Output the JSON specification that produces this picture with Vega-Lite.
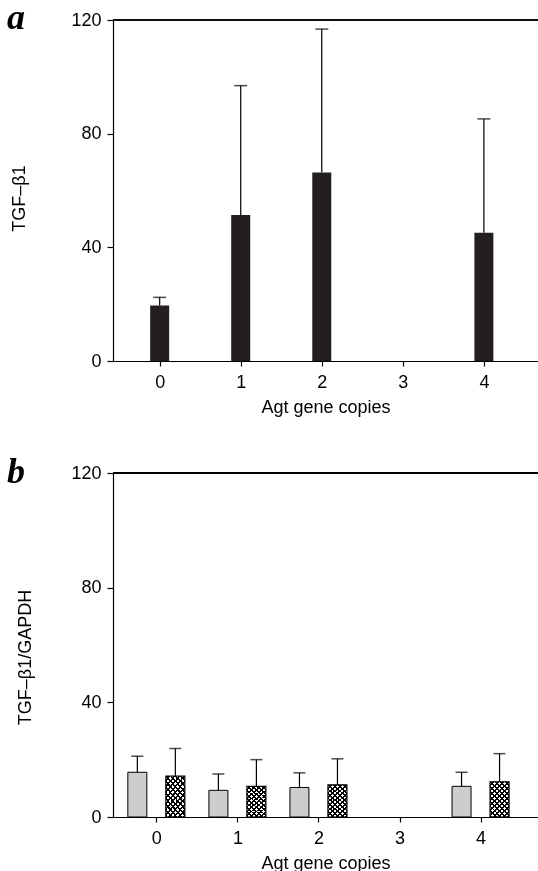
{
  "$schema": "https://vega.github.io/schema/vega-lite/v6.json",
  "padding": {"left": 7, "top": 0, "right": 0, "bottom": 0},
  "spacing": 38,
  "datasets": {
    "a": [
      {"copies": 0, "mean": 19.5, "upper": 22.4},
      {"copies": 1, "mean": 51.4, "upper": 96.9},
      {"copies": 2, "mean": 66.3, "upper": 116.8},
      {"copies": 4, "mean": 45.1, "upper": 85.2}
    ],
    "b": [
      {"copies": 0, "group": "gray", "mean": 15.6, "upper": 21.2},
      {"copies": 0, "group": "hatch", "mean": 14.3, "upper": 23.9},
      {"copies": 1, "group": "gray", "mean": 9.3, "upper": 15.0},
      {"copies": 1, "group": "hatch", "mean": 10.7, "upper": 20.0},
      {"copies": 2, "group": "gray", "mean": 10.3, "upper": 15.4},
      {"copies": 2, "group": "hatch", "mean": 11.2, "upper": 20.3},
      {"copies": 4, "group": "gray", "mean": 10.7, "upper": 15.6},
      {"copies": 4, "group": "hatch", "mean": 12.3, "upper": 22.1}
    ]
  },
  "vconcat": [
    {
      "width": 425,
      "height": 341,
      "title": {"text": "a", "anchor": "start", "frame": "group", "orient": "top", "baseline": "alphabetic", "offset": -36, "dx": -106, "dy": 18, "font": "Liberation Serif", "fontStyle": "italic", "fontWeight": "bold", "fontSize": 36, "color": "black"},
      "data": {"name": "a"},
      "layer": [
        {
          "mark": {"type": "rule", "color": "black", "strokeWidth": 1},
          "encoding": {
            "y": {"datum": 120, "type": "quantitative", "scale": {"domain": [0, 120]}, "title": "TGF–β1"}
          }
        },
        {
          "mark": {"type": "bar", "width": 19, "fill": "#231f20"},
          "encoding": {
            "x": {"field": "copies", "type": "quantitative", "scale": {"domain": [-0.514, 4.606], "nice": false, "zero": false}, "title": "Agt gene copies",
              "axis": {"values": [0, 1, 2, 3, 4], "format": "d", "tickSize": 5, "labelPadding": 7, "titlePadding": 7, "labelFlush": false}},
            "y": {"field": "mean", "type": "quantitative", "scale": {"domain": [0, 120]}, "title": "TGF–β1",
              "axis": {"values": [0, 40, 80, 120], "tickSize": 6, "labelPadding": 6, "titleX": -89, "titleY": 178, "titleBaseline": "alphabetic", "titleAlign": "center"}}
          }
        },
        {
          "mark": {"type": "rule", "color": "black", "strokeWidth": 1.2},
          "encoding": {
            "x": {"field": "copies", "type": "quantitative", "title": "Agt gene copies"},
            "y": {"field": "mean", "type": "quantitative", "title": "TGF–β1"},
            "y2": {"field": "upper"}
          }
        },
        {
          "mark": {"type": "tick", "orient": "horizontal", "size": 13, "thickness": 1.5, "color": "black"},
          "encoding": {
            "x": {"field": "copies", "type": "quantitative", "title": "Agt gene copies"},
            "y": {"field": "upper", "type": "quantitative", "title": "TGF–β1"}
          }
        }
      ]
    },
    {
      "width": 425,
      "height": 344,
      "title": {"text": "b", "anchor": "start", "frame": "group", "orient": "top", "baseline": "alphabetic", "offset": -34, "dx": -106, "dy": 21, "font": "Liberation Serif", "fontStyle": "italic", "fontWeight": "bold", "fontSize": 36, "color": "black"},
      "data": {"name": "b"},
      "layer": [
        {
          "mark": {"type": "rule", "color": "black", "strokeWidth": 1},
          "encoding": {
            "y": {"datum": 120, "type": "quantitative", "scale": {"domain": [0, 120]}, "title": "TGF–β1/GAPDH"}
          }
        },
        {
          "transform": [{"filter": "datum.group == 'gray'"}],
          "mark": {"type": "bar", "width": 19, "xOffset": -19, "fill": "#cdcdcd", "stroke": "black", "strokeWidth": 1},
          "encoding": {
            "x": {"field": "copies", "type": "quantitative", "scale": {"domain": [-0.473, 4.647], "nice": false, "zero": false}, "title": "Agt gene copies",
              "axis": {"values": [0, 1, 2, 3, 4], "format": "d", "tickSize": 5, "labelPadding": 7, "titlePadding": 7, "labelFlush": false}},
            "y": {"field": "mean", "type": "quantitative", "scale": {"domain": [0, 120]}, "title": "TGF–β1/GAPDH",
              "axis": {"values": [0, 40, 80, 120], "tickSize": 6, "labelPadding": 6, "titleX": -83, "titleY": 184, "titleBaseline": "alphabetic", "titleAlign": "center"}}
          }
        },
        {
          "transform": [{"filter": "datum.group == 'gray'"}],
          "mark": {"type": "rule", "color": "black", "strokeWidth": 1.2, "xOffset": -19},
          "encoding": {
            "x": {"field": "copies", "type": "quantitative", "title": "Agt gene copies"},
            "y": {"field": "mean", "type": "quantitative", "title": "TGF–β1/GAPDH"},
            "y2": {"field": "upper"}
          }
        },
        {
          "transform": [{"filter": "datum.group == 'gray'"}],
          "mark": {"type": "tick", "orient": "horizontal", "size": 12, "thickness": 1.5, "color": "black", "xOffset": -19},
          "encoding": {
            "x": {"field": "copies", "type": "quantitative", "title": "Agt gene copies"},
            "y": {"field": "upper", "type": "quantitative", "title": "TGF–β1/GAPDH"}
          }
        },
        {
          "transform": [{"filter": "datum.group == 'hatch'"}],
          "mark": {"type": "bar", "width": 19, "xOffset": 19,
            "fill": {"gradient": "linear", "x1": 0, "y1": 0, "x2": 0.643, "y2": 1.19, "stops": [
              {"offset": 0, "color": "#ffffff"}, {"offset": 0.0545, "color": "#ffffff"}, {"offset": 0.0545, "color": "#000000"}, {"offset": 0.0909, "color": "#000000"},
              {"offset": 0.0909, "color": "#ffffff"}, {"offset": 0.1455, "color": "#ffffff"}, {"offset": 0.1455, "color": "#000000"}, {"offset": 0.1818, "color": "#000000"},
              {"offset": 0.1818, "color": "#ffffff"}, {"offset": 0.2364, "color": "#ffffff"}, {"offset": 0.2364, "color": "#000000"}, {"offset": 0.2727, "color": "#000000"},
              {"offset": 0.2727, "color": "#ffffff"}, {"offset": 0.3273, "color": "#ffffff"}, {"offset": 0.3273, "color": "#000000"}, {"offset": 0.3636, "color": "#000000"},
              {"offset": 0.3636, "color": "#ffffff"}, {"offset": 0.4182, "color": "#ffffff"}, {"offset": 0.4182, "color": "#000000"}, {"offset": 0.4545, "color": "#000000"},
              {"offset": 0.4545, "color": "#ffffff"}, {"offset": 0.5091, "color": "#ffffff"}, {"offset": 0.5091, "color": "#000000"}, {"offset": 0.5455, "color": "#000000"},
              {"offset": 0.5455, "color": "#ffffff"}, {"offset": 0.6, "color": "#ffffff"}, {"offset": 0.6, "color": "#000000"}, {"offset": 0.6364, "color": "#000000"},
              {"offset": 0.6364, "color": "#ffffff"}, {"offset": 0.6909, "color": "#ffffff"}, {"offset": 0.6909, "color": "#000000"}, {"offset": 0.7273, "color": "#000000"},
              {"offset": 0.7273, "color": "#ffffff"}, {"offset": 0.7818, "color": "#ffffff"}, {"offset": 0.7818, "color": "#000000"}, {"offset": 0.8182, "color": "#000000"},
              {"offset": 0.8182, "color": "#ffffff"}, {"offset": 0.8727, "color": "#ffffff"}, {"offset": 0.8727, "color": "#000000"}, {"offset": 0.9091, "color": "#000000"},
              {"offset": 0.9091, "color": "#ffffff"}, {"offset": 0.9636, "color": "#ffffff"}, {"offset": 0.9636, "color": "#000000"}, {"offset": 1, "color": "#000000"}
            ]}},
          "encoding": {
            "x": {"field": "copies", "type": "quantitative", "title": "Agt gene copies"},
            "y": {"field": "mean", "type": "quantitative", "title": "TGF–β1/GAPDH"}
          }
        },
        {
          "transform": [{"filter": "datum.group == 'hatch'"}],
          "mark": {"type": "bar", "width": 19, "xOffset": 19, "blend": "multiply", "stroke": "black", "strokeWidth": 1.2,
            "fill": {"gradient": "linear", "x1": 1, "y1": 0, "x2": 0.357, "y2": 1.19, "stops": [
              {"offset": 0, "color": "#ffffff"}, {"offset": 0.0545, "color": "#ffffff"}, {"offset": 0.0545, "color": "#000000"}, {"offset": 0.0909, "color": "#000000"},
              {"offset": 0.0909, "color": "#ffffff"}, {"offset": 0.1455, "color": "#ffffff"}, {"offset": 0.1455, "color": "#000000"}, {"offset": 0.1818, "color": "#000000"},
              {"offset": 0.1818, "color": "#ffffff"}, {"offset": 0.2364, "color": "#ffffff"}, {"offset": 0.2364, "color": "#000000"}, {"offset": 0.2727, "color": "#000000"},
              {"offset": 0.2727, "color": "#ffffff"}, {"offset": 0.3273, "color": "#ffffff"}, {"offset": 0.3273, "color": "#000000"}, {"offset": 0.3636, "color": "#000000"},
              {"offset": 0.3636, "color": "#ffffff"}, {"offset": 0.4182, "color": "#ffffff"}, {"offset": 0.4182, "color": "#000000"}, {"offset": 0.4545, "color": "#000000"},
              {"offset": 0.4545, "color": "#ffffff"}, {"offset": 0.5091, "color": "#ffffff"}, {"offset": 0.5091, "color": "#000000"}, {"offset": 0.5455, "color": "#000000"},
              {"offset": 0.5455, "color": "#ffffff"}, {"offset": 0.6, "color": "#ffffff"}, {"offset": 0.6, "color": "#000000"}, {"offset": 0.6364, "color": "#000000"},
              {"offset": 0.6364, "color": "#ffffff"}, {"offset": 0.6909, "color": "#ffffff"}, {"offset": 0.6909, "color": "#000000"}, {"offset": 0.7273, "color": "#000000"},
              {"offset": 0.7273, "color": "#ffffff"}, {"offset": 0.7818, "color": "#ffffff"}, {"offset": 0.7818, "color": "#000000"}, {"offset": 0.8182, "color": "#000000"},
              {"offset": 0.8182, "color": "#ffffff"}, {"offset": 0.8727, "color": "#ffffff"}, {"offset": 0.8727, "color": "#000000"}, {"offset": 0.9091, "color": "#000000"},
              {"offset": 0.9091, "color": "#ffffff"}, {"offset": 0.9636, "color": "#ffffff"}, {"offset": 0.9636, "color": "#000000"}, {"offset": 1, "color": "#000000"}
            ]}},
          "encoding": {
            "x": {"field": "copies", "type": "quantitative", "title": "Agt gene copies"},
            "y": {"field": "mean", "type": "quantitative", "title": "TGF–β1/GAPDH"}
          }
        },
        {
          "transform": [{"filter": "datum.group == 'hatch'"}],
          "mark": {"type": "rule", "color": "black", "strokeWidth": 1.2, "xOffset": 19},
          "encoding": {
            "x": {"field": "copies", "type": "quantitative", "title": "Agt gene copies"},
            "y": {"field": "mean", "type": "quantitative", "title": "TGF–β1/GAPDH"},
            "y2": {"field": "upper"}
          }
        },
        {
          "transform": [{"filter": "datum.group == 'hatch'"}],
          "mark": {"type": "tick", "orient": "horizontal", "size": 12, "thickness": 1.5, "color": "black", "xOffset": 19},
          "encoding": {
            "x": {"field": "copies", "type": "quantitative", "title": "Agt gene copies"},
            "y": {"field": "upper", "type": "quantitative", "title": "TGF–β1/GAPDH"}
          }
        }
      ]
    }
  ],
  "config": {
    "view": {"stroke": null},
    "font": "Liberation Sans",
    "axis": {"grid": false, "domainColor": "black", "domainWidth": 1.2, "tickColor": "black", "tickWidth": 1.2, "labelColor": "black", "titleColor": "black", "labelFontSize": 18, "titleFontSize": 18, "titleFontWeight": "normal", "labelFont": "Liberation Sans", "titleFont": "Liberation Sans"}
  }
}
